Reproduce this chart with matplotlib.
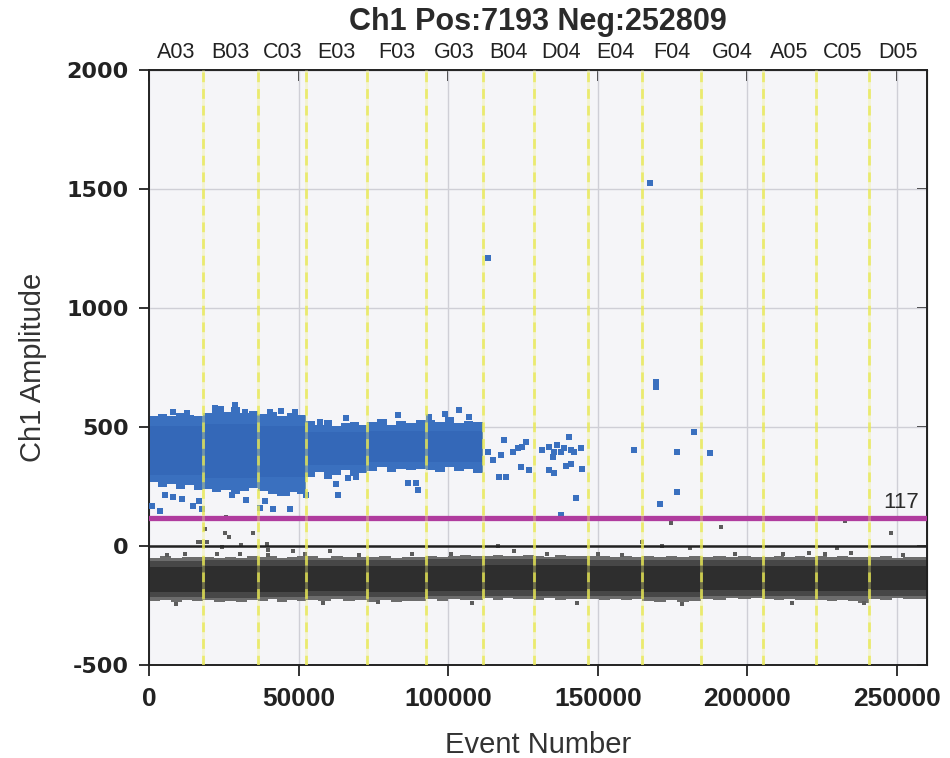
import numpy as np
import matplotlib.pyplot as plt
import matplotlib.transforms as mtransforms

plt.rcParams["axes.unicode_minus"] = False

TOTAL_EVENTS = 260002
THRESHOLD = 117

wells = ["A03", "B03", "C03", "E03", "F03", "G03", "B04", "D04",
         "E04", "F04", "G04", "A05", "C05", "D05"]
well_edges = [0, 18000, 36400, 52500, 72900, 92400, 111500, 128500,
              146800, 164900, 184400, 205300, 223000, 240600, TOTAL_EVENTS]

# positive droplet cloud, wells A03..G03: top / bottom edge read along each well
pos_top = [
    [548, 556, 545, 560, 552, 548],
    [560, 575, 565, 582, 560, 568],
    [555, 565, 548, 560, 552],
    [525, 510, 530, 505, 515, 520, 510],
    [520, 535, 510, 525, 515, 530],
    [530, 520, 540, 515, 525, 520],
]
pos_bottom = [
    [270, 250, 262, 240, 255, 235],
    [240, 228, 235, 220, 232, 245],
    [230, 220, 212, 225, 218],
    [290, 310, 280, 300, 320, 295, 305],
    [315, 330, 310, 325, 318, 322],
    [320, 310, 330, 315, 325, 305],
]
pos_core_hi = [505, 512, 505, 480, 482, 485]
pos_core_lo = [300, 285, 290, 340, 355, 355]

# negative droplet band: outer edges read along each well
neg_top = [
    [-50, -44, -52, -46, -48], [-45, -52, -47, -50, -43], [-48, -42, -50, -46, -44],
    [-44, -50, -42, -47, -45], [-48, -44, -50, -45, -47], [-40, -46, -42, -38, -44],
    [-42, -36, -40, -44, -38], [-40, -45, -38, -42, -40], [-44, -40, -47, -42, -45],
    [-42, -48, -44, -46, -43], [-46, -42, -48, -44, -45], [-45, -40, -47, -43, -46],
    [-44, -48, -42, -46, -45], [-48, -44, -50, -46, -47],
]
neg_bottom = [
    [-232, -225, -236, -228, -230], [-228, -236, -230, -234, -226], [-230, -224, -235, -228, -232],
    [-226, -232, -224, -230, -228], [-234, -228, -236, -230, -232], [-224, -230, -222, -228, -226],
    [-220, -226, -218, -224, -222], [-226, -220, -228, -224, -222], [-222, -228, -224, -226, -221],
    [-232, -236, -228, -234, -230], [-222, -226, -218, -224, -220], [-224, -228, -222, -226, -225],
    [-228, -232, -226, -230, -238], [-222, -226, -220, -224, -221],
]
neg_mid_hi = [-62, -60, -60, -58, -60, -56, -55, -55, -57, -58, -58, -58, -58, -60]
neg_mid_lo = [-215, -218, -215, -212, -216, -212, -208, -210, -210, -215, -208, -210, -212, -208]
neg_core_hi = [-88, -85, -85, -85, -86, -82, -80, -80, -82, -84, -84, -84, -84, -86]
neg_core_lo = [-192, -195, -192, -190, -193, -190, -186, -188, -188, -192, -186, -188, -190, -186]

# isolated positive droplets (event, amplitude)
pos_x = [800, 3600, 5200, 8000, 10800, 14700, 16700, 17500, 27500, 32500,
         37000, 38600, 41400, 47000, 45900, 52500, 62600, 63100, 66400, 69200,
         86500, 89300, 89800, 28600, 21900, 32000, 40300, 48600, 8000, 83100,
         93700, 103700, 107000, 65900, 57000, 77000, 24000, 12500, 44000, 99000,
         113200, 117600, 118700, 117000, 119300, 121500, 123200, 124300, 126000, 127100,
         124800, 113400, 131500, 133700, 135400, 136500, 137700, 138800, 140400, 141000,
         142100, 144300, 134900, 133800, 135400, 139300, 141000, 144700, 142700, 137700,
         162100, 169400, 169400, 176600, 182200, 187400, 176600, 170700, 167500, 115000]
pos_y = [168, 148, 214, 207, 196, 168, 190, 154, 214, 193,
         158, 190, 154, 154, 221, 214, 259, 214, 284, 291,
         266, 266, 235, 592, 578, 564, 564, 564, 564, 550,
         543, 571, 543, 536, 522, 508, 575, 560, 568, 555,
         396, 382, 445, 291, 288, 396, 410, 330, 438, 319,
         417, 1212, 403, 417, 396, 424, 396, 410, 459, 403,
         396, 410, 375, 319, 305, 336, 344, 322, 200, 130,
         403, 669, 690, 396, 480, 389, 228, 175, 1525, 360]

# low-amplitude / rain droplets near the negative band (event, amplitude)
neg_x = [16900, 18600, 25600, 25300, 26700, 34700, 16400, 19200, 11900, 22500,
         30300, 30800, 24200, 39200, 39700, 39700, 47900, 60500, 116500, 122100,
         76400, 174400, 191100, 232600, 248100, 164900, 171400, 181000, 230000, 220800,
         234800, 238900, 6000, 52000, 70000, 88000, 101000, 133000, 150000, 158000,
         196000, 212000, 226000, 252000, 9000, 58000, 108000, 143000, 178000, 215000]
neg_y = [18, 71, 123, 56, 37, 56, 18, 18, -34, -35,
         -34, 4, -3, 8, -17, -38, -21, -21, 1, -21,
         -234, 98, 79, 105, 56, 18, 1, -7, -7, -28,
         -28, -241, -36, -34, -38, -33, -35, -32, -34, -36,
         -33, -35, -34, -36, -242, -240, -238, -241, -243, -240]

fig = plt.figure(figsize=(9.5, 7.58), dpi=100)
ax = fig.add_axes([149.3 / 950, 1 - 665 / 758, (926.7 - 149.3) / 950, (665 - 70) / 758])
ax.set_facecolor("#f5f5f8")

ax.set_xlim(0, TOTAL_EVENTS)
ax.set_ylim(-500, 2000)
ax.set_xticks([0, 50000, 100000, 150000, 200000, 250000])
ax.set_yticks([-500, 0, 500, 1000, 1500, 2000])
ax.grid(True, color="#cfcfd6", lw=1.0, zorder=0)

edges = np.array(well_edges)


def ragged(tops, bottoms, color, z):
    # step outline: each well split evenly into as many pieces as values read
    xs, hi, lo = [], [], []
    for i, (t, b) in enumerate(zip(tops, bottoms)):
        pts = np.linspace(edges[i], edges[i + 1], len(t) + 1)[:-1]
        xs.extend(pts)
        hi.extend(t)
        lo.extend(b)
    n = len(tops)
    xs.append(edges[n])
    hi.append(hi[-1])
    lo.append(lo[-1])
    ax.fill_between(xs, lo, hi, step="post", color=color, lw=0, zorder=z)


def band(lo, hi, color, z):
    lo = list(lo) + [lo[-1]]
    hi = list(hi) + [hi[-1]]
    ax.fill_between(edges[:len(lo)], lo, hi, step="post", color=color, lw=0, zorder=z)


ragged(neg_top, neg_bottom, "#6c6c6c", 2)
band(neg_mid_lo, neg_mid_hi, "#474747", 2.1)
band(neg_core_lo, neg_core_hi, "#2e2e2e", 2.2)
ragged(pos_top, pos_bottom, "#3a70bf", 2)
band(pos_core_lo, pos_core_hi, "#3468b8", 2.1)

ax.scatter(pos_x, pos_y, marker="s", s=14, color="#3a70bf", lw=0, zorder=3)
ax.scatter(neg_x, neg_y, marker="s", s=12, color="#5c5c5c", lw=0, zorder=3)

# zero line and threshold
ax.axhline(0, color="#222222", lw=1.8, zorder=3.5)
ax.axhline(THRESHOLD, color="#b03c9e", lw=3.8, zorder=3.6)
ax.text(TOTAL_EVENTS - 2500, THRESHOLD + 22, str(THRESHOLD), ha="right", va="bottom",
        fontsize=16, family="Liberation Sans", color="#2a2a2a", zorder=5)

# well separators
for xe in well_edges[1:-1]:
    ax.axvline(xe, color="#f0f080", lw=2.0, alpha=0.35, zorder=4)
    ax.axvline(xe, color="#e8e850", lw=2.0, ls=(0, (3.5, 2.5)), alpha=0.75, zorder=4.1)

# well names above plot
trans = mtransforms.blended_transform_factory(ax.transData, ax.transAxes)
for i, name in enumerate(wells):
    xc = (well_edges[i] + well_edges[i + 1]) / 2
    ax.text(xc, 1.012, name, transform=trans, ha="center", va="bottom",
            fontsize=15.5, family="Liberation Sans", color="#222222")

for sp in ax.spines.values():
    sp.set_color("#222222")
    sp.set_linewidth(1.4)

ax.tick_params(axis="y", direction="out", length=7, width=1.3, pad=8, colors="#222222")
ax.tick_params(axis="x", direction="out", length=8, width=1.3, pad=8, colors="#222222")
for lab in ax.get_yticklabels():
    lab.set_fontfamily("DejaVu Sans")
    lab.set_fontweight("bold")
    lab.set_fontsize(16)
for lab in ax.get_xticklabels():
    lab.set_fontfamily("Liberation Sans")
    lab.set_fontweight("bold")
    lab.set_fontsize(19)

# inward ticks on top and right
top = ax.secondary_xaxis("top")
top.set_xticks([0, 50000, 100000, 150000, 200000, 250000])
top.tick_params(direction="in", length=8, width=1.3, labeltop=False, colors="#222222")
right = ax.secondary_yaxis("right")
right.set_yticks([-500, 0, 500, 1000, 1500, 2000])
right.tick_params(direction="in", length=7, width=1.3, labelright=False, colors="#222222")

ax.set_xlabel("Event Number", fontsize=21, family="Liberation Sans", color="#333333", labelpad=14)
ax.set_ylabel("Ch1 Amplitude", fontsize=21, family="Liberation Sans", color="#333333", labelpad=14)

fig.text(0.5 * (149.3 + 926.7) / 950, 1 - 22 / 758, "Ch1 Pos:7193 Neg:252809", ha="center", va="center",
         fontsize=22, fontweight="bold", family="Liberation Sans", color="#2a2a2a")

fig.savefig("out.png", dpi=100)
